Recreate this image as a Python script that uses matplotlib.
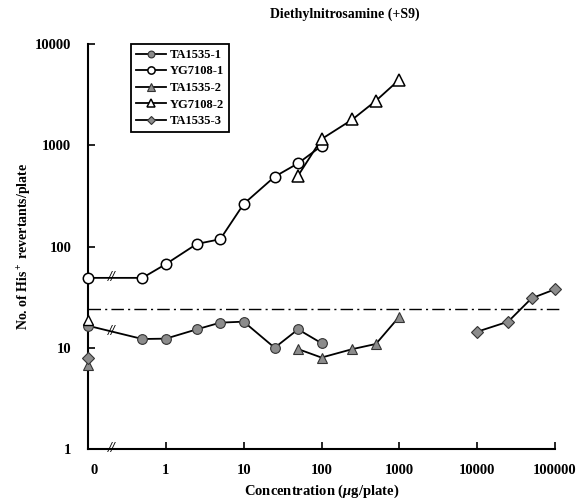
import numpy as np
import matplotlib
matplotlib.use("Agg")
import matplotlib.pyplot as plt

plt.rcParams["font.family"] = ["Liberation Serif", "DejaVu Serif"]
plt.rcParams["font.weight"] = "bold"
plt.rcParams["mathtext.fontset"] = "custom"
plt.rcParams["mathtext.rm"] = "Liberation Serif:bold"
plt.rcParams["mathtext.it"] = "Liberation Serif:bold:italic"

# zero dose is drawn at 0.1 on the log axis
ZERO = 0.1

ta1535_1_x = [ZERO, 0.5, 1, 2.5, 5, 10, 25, 50, 100]
ta1535_1_y = [16.5, 12.2, 12.3, 15.2, 17.7, 18.1, 10.0, 15.2, 11.1]

yg7108_1_x = [ZERO, 0.5, 1, 2.5, 5, 10, 25, 50, 100]
yg7108_1_y = [49, 49, 67, 106, 118, 263, 489, 663, 984]

ta1535_2_ctrl = 6.8
ta1535_2_x = [50, 100, 250, 500, 1000]
ta1535_2_y = [9.7, 8.0, 9.7, 10.9, 20.3]

yg7108_2_ctrl = 19
yg7108_2_x = [50, 100, 250, 500, 1000]
yg7108_2_y = [500, 1150, 1800, 2750, 4450]

ta1535_3_ctrl = 8.0
ta1535_3_x = [10000, 25000, 50000, 100000]
ta1535_3_y = [14.4, 18.1, 30.8, 37.8]

threshold = 24

xticks = [0.12, 1, 10, 100, 1000, 10000, 100000]
xticklabels = ["0", "1", "10", "100", "1000", "10000", "100000"]
yticks = [1, 10, 100, 1000, 10000]
yticklabels = ["1", "10", "100", "1000", "10000"]

gray = "#8c8c8c"

fig = plt.figure(figsize=(5.85, 5.03), dpi=100)
ax = fig.add_axes([88 / 585, 1 - 449 / 503, (555 - 88) / 585, (449 - 44) / 503])
ax.set_xscale("log")
ax.set_yscale("log")
ax.set_xlim(ZERO, 1e5)
ax.set_ylim(1, 1e4)

common = dict(color="black", lw=1.3, clip_on=False, zorder=3)

ax.plot(ta1535_1_x, ta1535_1_y, marker="o", ms=7, mfc=gray, mec="#333333",
        mew=0.8, label="TA1535-1", **common)
ax.plot(yg7108_1_x, yg7108_1_y, marker="o", ms=7.5, mfc="white", mec="black",
        mew=1.1, label="YG7108-1", **common)
ax.plot(ta1535_2_x, ta1535_2_y, marker="^", ms=7.5, mfc=gray, mec="#333333",
        mew=0.8, label="TA1535-2", **common)
ax.plot(yg7108_2_x, yg7108_2_y, marker="^", ms=8, mfc="white", mec="black",
        mew=1.1, label="YG7108-2", **common)
ax.plot(ta1535_3_x, ta1535_3_y, marker="D", ms=6, mfc=gray, mec="#333333",
        mew=0.8, label="TA1535-3", **common)

# unconnected control points on the y axis
ax.plot([ZERO], [yg7108_2_ctrl], ls="none", marker="^", ms=7, mfc="white",
        mec="black", mew=1.0, clip_on=False, zorder=4)
ax.plot([ZERO], [ta1535_2_ctrl], ls="none", marker="^", ms=7, mfc=gray,
        mec="#333333", mew=0.8, clip_on=False, zorder=4)
ax.plot([ZERO], [ta1535_3_ctrl], ls="none", marker="D", ms=6, mfc=gray,
        mec="#333333", mew=0.8, clip_on=False, zorder=4)

# threshold line
ax.plot([ZERO, 1.25e5], [threshold, threshold], color="black", lw=1.0,
        ls=(0, (9, 3, 1.5, 3)), clip_on=False, zorder=2)

# axis break marks
def gap_y(x, y):
    lx = np.log10(x)
    ly = np.log10(y)
    return 10 ** np.interp(np.log10(0.2), lx[:2], ly[:2])

for xs, ys in [(ta1535_1_x, ta1535_1_y), (yg7108_1_x, yg7108_1_y)]:
    ax.text(0.2, gap_y(xs, ys), "//", ha="center", va="center", fontsize=10,
            style="italic", zorder=5)
ax.text(0.2, 1.0, "//", ha="center", va="center", fontsize=10,
        style="italic", zorder=5, clip_on=False)

for s in ["top", "right"]:
    ax.spines[s].set_visible(False)
for s in ["left", "bottom"]:
    ax.spines[s].set_linewidth(1.5)

ax.set_xticks(xticks)
ax.set_xticklabels(xticklabels)
ax.set_yticks(yticks)
ax.set_yticklabels(yticklabels)
ax.minorticks_off()
ax.tick_params(direction="in", length=5, width=1.2, labelsize=10.5)
ax.tick_params(axis="x", pad=11)
ax.tick_params(axis="y", pad=12)
ax.xaxis.get_major_ticks()[0].tick1line.set_visible(False)

ax.set_xlabel(r"Concentration ($\mathit{\mu}$g/plate)", fontsize=10.5,
              fontweight="bold", labelpad=4)
ax.set_ylabel(r"No. of His$^+$ revertants/plate", fontsize=10,
              fontweight="bold")
ax.yaxis.set_label_coords(-0.115, 0.5)
fig.text(345 / 585, 1 - 14 / 503, "Diethylnitrosamine (+S9)", ha="center",
         va="center", fontsize=10, fontweight="bold")

leg = ax.legend(loc="upper left", bbox_to_anchor=(0.092, 1.0), fontsize=9,
                handlelength=2.4, markerscale=0.7, handletextpad=0.3,
                labelspacing=0.36, borderpad=0.4, borderaxespad=0,
                fancybox=False, edgecolor="black", framealpha=1)
leg.get_frame().set_linewidth(1.3)

fig.savefig("out.png", dpi=100)
